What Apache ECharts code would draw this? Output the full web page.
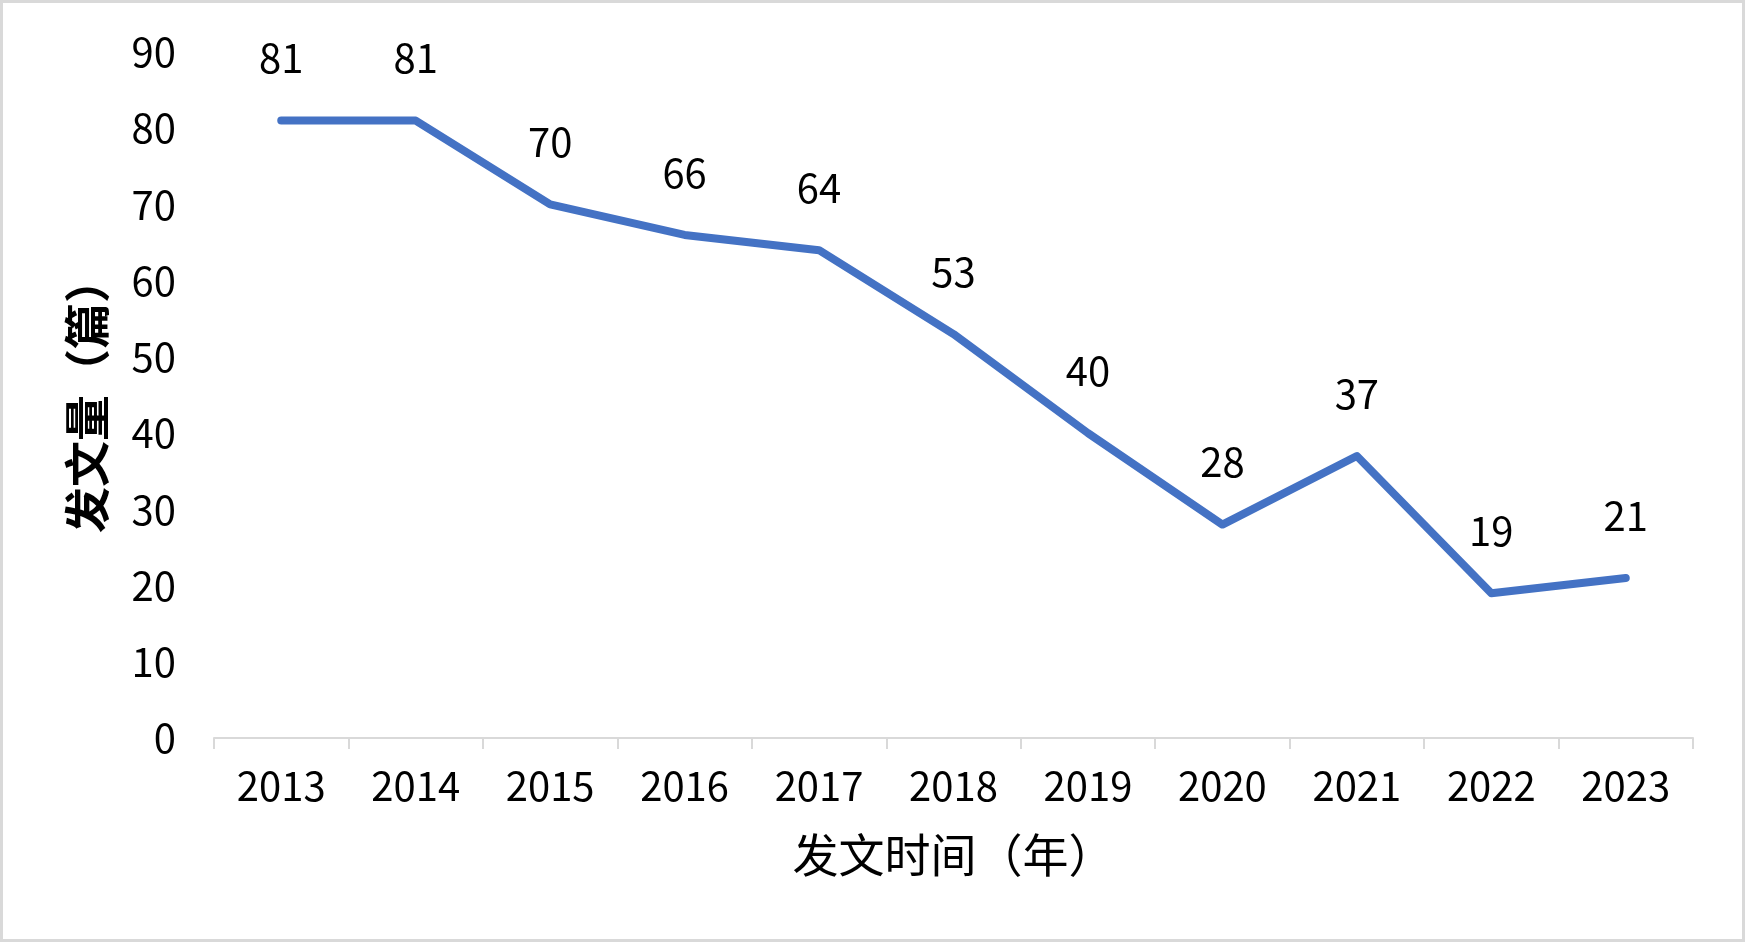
<!DOCTYPE html>
<html>
<head>
<meta charset="utf-8">
<script src="https://cdn.jsdelivr.net/npm/echarts@6/dist/echarts.min.js"></script>
<style>
html,body{margin:0;padding:0;background:#fff;}
#chart{width:1745px;height:942px;}
</style>
</head>
<body>
<div id="chart"></div>
<script>
const years = ['2013','2014','2015','2016','2017','2018','2019','2020','2021','2022','2023'];
const counts = [81, 81, 70, 66, 64, 53, 40, 28, 37, 19, 21];
const xName = '发文时间（年）';
const yName = '发文量（篇）';

const FONT = '"Noto Sans CJK SC", "Noto Sans", sans-serif';
const chart = echarts.init(document.getElementById('chart'));
chart.setOption({
  backgroundColor: '#fff',
  animation: false,
  graphic: [{
    type: 'rect',
    shape: { x: 1.5, y: 1.5, width: 1742, height: 939 },
    style: { fill: 'none', stroke: '#d9d9d9', lineWidth: 3 },
    silent: true
  }],
  grid: { left: 214, right: 52, top: 52, bottom: 204, containLabel: false },
  xAxis: {
    type: 'category',
    data: years,
    boundaryGap: true,
    name: xName,
    nameLocation: 'middle',
    nameGap: 94,
    nameTextStyle: { fontFamily: FONT, fontSize: 46, color: '#000' },
    axisLine: { show: true, lineStyle: { color: '#d9d9d9', width: 2 } },
    axisTick: { show: true, length: 11, lineStyle: { color: '#d9d9d9', width: 2 } },
    axisLabel: { fontFamily: FONT, fontSize: 40, color: '#000', margin: 28 },
    splitLine: { show: false }
  },
  yAxis: {
    type: 'value',
    min: 0, max: 90, interval: 10,
    name: yName,
    nameLocation: 'middle',
    nameGap: 104,
    nameTextStyle: { fontFamily: FONT, fontSize: 46, fontWeight: 'bold', color: '#000' },
    axisLine: { show: false },
    axisTick: { show: false },
    axisLabel: { fontFamily: FONT, fontSize: 40, color: '#000', margin: 38 },
    splitLine: { show: false }
  },
  series: [{
    type: 'line',
    data: counts,
    showSymbol: true,
    symbol: 'circle',
    symbolSize: 1,
    lineStyle: { color: '#4472C4', width: 8, cap: 'round', join: 'round' },
    itemStyle: { color: '#4472C4', opacity: 0 },
    label: {
      show: true,
      position: 'top',
      distance: 42,
      fontFamily: FONT,
      fontSize: 40,
      color: '#000',
      opacity: 1
    }
  }]
});
</script>
</body>
</html>
